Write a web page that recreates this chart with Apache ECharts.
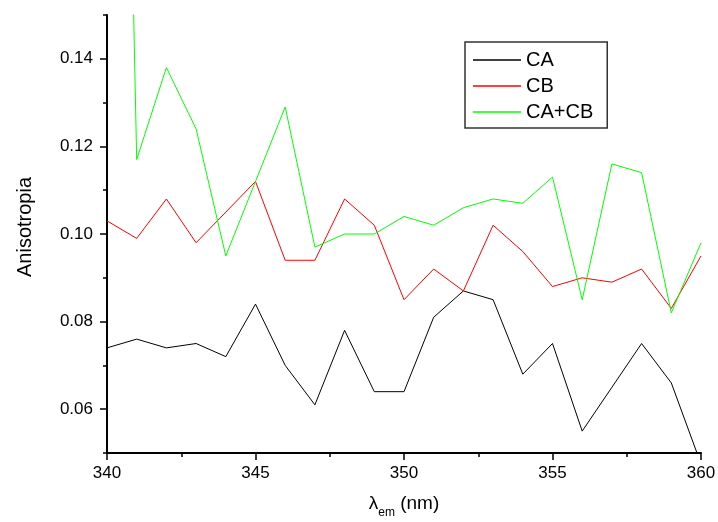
<!DOCTYPE html>
<html>
<head>
    <meta charset="utf-8">
    <script src="https://cdn.jsdelivr.net/npm/echarts@6/dist/echarts.min.js"></script>
</head>
<body style="margin:0; background:#fff;">
    <div id="main" style="width:718px; height:522px;"></div>
</body>
	<script type="text/javascript">
		var wavelengths = [340, 341, 342, 343, 344, 345, 346, 347, 348, 349, 350,
			351, 352, 353, 354, 355, 356, 357, 358, 359, 360];
		var ca = [0.074, 0.076, 0.074, 0.075, 0.072, 0.084, 0.070, 0.061, 0.078, 0.064, 0.064,
			0.081, 0.087, 0.085, 0.068, 0.075, 0.055, 0.065, 0.075, 0.066, 0.0475];
		var cb = [0.103, 0.099, 0.108, 0.098, 0.105, 0.112, 0.094, 0.094, 0.108, 0.102, 0.085,
			0.092, 0.087, 0.102, 0.096, 0.088, 0.090, 0.089, 0.092, 0.083, 0.095];
		var cacb = [0.44, 0.117, 0.138, 0.124, 0.095, 0.112, 0.129, 0.097, 0.100, 0.100, 0.104,
			0.102, 0.106, 0.108, 0.107, 0.113, 0.085, 0.116, 0.114, 0.082, 0.098];
		var yMajor = [0.06, 0.08, 0.10, 0.12, 0.14];
		var yMinor = [0.05, 0.07, 0.09, 0.11, 0.13, 0.15];

		function pairs(vals) {
			return wavelengths.map(function (x, i) { return [x, vals[i]]; });
		}

		var font = 'Liberation Sans, Arial, sans-serif';
		var myChart = echarts.init(document.getElementById('main'));
		var option = {
			animation: false,
			backgroundColor: '#fff',
			grid: { left: 107, right: 17, top: 15, bottom: 69, outerBoundsMode: 'none' },
			legend: {
				orient: 'vertical',
				left: 465, top: 42,
				padding: [8, 14, 6, 8],
				itemGap: 6,
				itemWidth: 48, itemHeight: 1.5,
				icon: 'rect',
				borderColor: '#333', borderWidth: 1.5,
				textStyle: { fontFamily: font, fontSize: 20, color: '#000' },
				data: ['CA', 'CB', 'CA+CB']
			},
			xAxis: {
				type: 'value',
				min: 340, max: 360, interval: 5,
				name: '{l|λ}{s|em}{l| (nm)}',
				nameLocation: 'middle',
				nameGap: 36,
				nameTextStyle: {
					rich: {
						l: { fontFamily: font, fontSize: 19, lineHeight: 30, verticalAlign: 'middle', color: '#000' },
						s: { fontFamily: font, fontSize: 12, lineHeight: 13, verticalAlign: 'bottom', color: '#000' }
					}
				},
				axisLine: { show: true, onZero: false, lineStyle: { color: '#000', width: 2 } },
				axisTick: { show: true, inside: false, length: 7, lineStyle: { color: '#000', width: 1.5 } },
				minorTick: { show: true, splitNumber: 2, length: 4, lineStyle: { color: '#000', width: 1.5 } },
				axisLabel: { margin: 12, fontFamily: font, fontSize: 17, color: '#000' },
				splitLine: { show: false }
			},
			yAxis: [{
				type: 'value',
				min: 0.05, max: 0.15,
				name: 'Anisotropia',
				nameLocation: 'middle',
				nameGap: 72,
				nameTextStyle: { fontFamily: font, fontSize: 20, color: '#000', padding: [0, 0, 0, 14] },
				axisLine: { show: true, onZero: false, lineStyle: { color: '#000', width: 2 } },
				axisTick: { show: true, length: 7, customValues: yMajor, lineStyle: { color: '#000', width: 1.5 } },
				axisLabel: {
					margin: 14, fontFamily: font, fontSize: 17, color: '#000',
					customValues: yMajor,
					formatter: function (v) { return v.toFixed(2); }
				},
				splitLine: { show: false }
			}, {
				type: 'value',
				position: 'left',
				min: 0.05, max: 0.15,
				axisLine: { show: false },
				axisTick: { show: true, length: 4, customValues: yMinor, lineStyle: { color: '#000', width: 1.5 } },
				axisLabel: { show: false },
				splitLine: { show: false }
			}],
			series: [
				{ name: 'CA', type: 'line', data: pairs(ca), symbol: 'none', color: '#000',
					lineStyle: { color: '#000', width: 1 } },
				{ name: 'CB', type: 'line', data: pairs(cb), symbol: 'none', color: '#ff0000',
					lineStyle: { color: '#ff0000', width: 1 } },
				{ name: 'CA+CB', type: 'line', data: pairs(cacb), symbol: 'none', color: '#00ff00',
					lineStyle: { color: '#00ff00', width: 1 } }
			]
		};
		myChart.setOption(option);
    </script>
</html>
